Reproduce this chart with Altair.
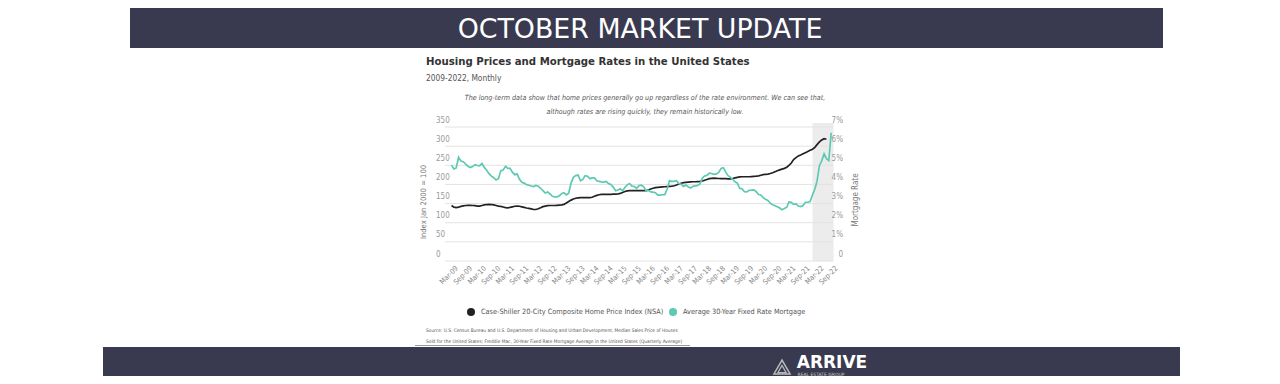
import altair as alt
import pandas as pd

# ---------------- data ----------------
# Average 30-year fixed mortgage rate (%), monthly, Mar-2009 .. Sep-2022
mortgage_rate = [
    5.00, 4.81, 4.86, 5.42, 5.22, 5.19, 5.06, 4.95, 4.88, 4.93,
    5.03, 4.99, 4.97, 5.10, 4.89, 4.74, 4.56, 4.43, 4.35, 4.23, 4.30, 4.71,
    4.76, 4.95, 4.84, 4.84, 4.64, 4.51, 4.55, 4.27, 4.11, 4.07, 3.99, 3.96,
    3.92, 3.89, 3.95, 3.91, 3.80, 3.68, 3.55, 3.60, 3.50, 3.38, 3.35, 3.35,
    3.41, 3.53, 3.57, 3.45, 3.54, 4.07, 4.37, 4.46, 4.49, 4.19, 4.26, 4.46,
    4.43, 4.30, 4.34, 4.34, 4.19, 4.16, 4.13, 4.12, 4.16, 4.04, 4.00, 3.86,
    3.67, 3.71, 3.77, 3.67, 3.84, 3.98, 4.05, 3.91, 3.89, 3.80, 3.94, 3.96,
    3.87, 3.66, 3.69, 3.61, 3.60, 3.57, 3.44, 3.44, 3.46, 3.47, 3.77, 4.20,
    4.15, 4.17, 4.20, 4.05, 4.01, 3.90, 3.97, 3.88, 3.81, 3.90, 3.92, 3.95,
    4.03, 4.33, 4.44, 4.47, 4.59, 4.57, 4.53, 4.55, 4.63, 4.83, 4.87, 4.64,
    4.46, 4.37, 4.27, 4.14, 4.07, 3.80, 3.77, 3.62, 3.61, 3.69, 3.70, 3.72,
    3.62, 3.47, 3.45, 3.31, 3.23, 3.16, 3.02, 2.94, 2.89, 2.83, 2.77, 2.68,
    2.74, 2.81, 3.08, 3.06, 2.96, 2.98, 2.87, 2.84, 2.90, 3.07, 3.07, 3.10,
    3.45, 3.76, 4.17, 4.98, 5.23, 5.60, 5.35, 5.25, 6.70,
]

# Case-Shiller 20-City Composite Home Price Index (NSA), monthly, Mar-2009 .. Jul-2022
case_shiller = [
    145.0, 140.5, 139.5, 140.5, 142.5, 144.0, 145.0, 145.5, 145.5, 145.0,
    144.5, 143.5, 143.5, 145.0, 146.5, 147.5, 148.0, 147.5, 146.5, 145.0, 143.5, 142.5,
    141.0, 139.5, 139.0, 140.0, 141.5, 143.0, 143.5, 143.0, 141.5, 140.0, 138.5, 137.5,
    136.0, 134.5, 134.5, 136.5, 139.0, 142.0, 143.5, 144.5, 145.0, 145.0, 145.0, 145.5,
    146.0, 146.5, 148.0, 151.5, 155.5, 159.0, 162.0, 164.0, 165.0, 165.5, 165.5, 165.5,
    165.5, 165.5, 166.5, 169.0, 171.5, 173.0, 174.0, 174.0, 174.0, 174.0, 174.0, 174.5,
    174.5, 175.0, 176.5, 179.0, 181.5, 183.0, 184.0, 184.0, 184.0, 184.0, 184.0, 184.0,
    184.0, 184.0, 185.5, 188.0, 190.0, 191.5, 192.5, 193.0, 193.5, 194.0, 194.5, 195.0,
    195.5, 196.5, 198.5, 201.0, 203.0, 204.5, 205.5, 206.0, 206.5, 207.0, 207.0, 207.5,
    208.0, 209.0, 211.0, 213.0, 215.0, 216.0, 216.5, 216.0, 215.5, 215.0, 215.0, 215.0,
    214.5, 214.5, 215.5, 217.0, 218.5, 219.5, 220.0, 220.0, 220.0, 220.0, 220.5, 221.0,
    221.5, 222.5, 224.0, 225.5, 226.5, 227.0, 228.5, 230.5, 233.0, 235.5, 238.0, 240.0,
    242.0, 245.0, 250.0, 256.0, 265.0, 270.0, 274.5, 277.0, 280.0, 283.0, 286.0, 289.0,
    292.0, 297.0, 304.0, 311.0, 316.0, 319.5, 318.0,
]

x_tick_labels = [
    "Mar-09", "Sep-09", "Mar-10", "Sep-10", "Mar-11", "Sep-11", "Mar-12", "Sep-12",
    "Mar-13", "Sep-13", "Mar-14", "Sep-14", "Mar-15", "Sep-15", "Mar-16", "Sep-16",
    "Mar-17", "Sep-17", "Mar-18", "Sep-18", "Mar-19", "Sep-19", "Mar-20", "Sep-20",
    "Mar-21", "Sep-21", "Mar-22", "Sep-22",
]
index_ticks = [0, 50, 100, 150, 200, 250, 300, 350]
index_tick_labels = ["0", "50", "100", "150", "200", "250", "300", "350"]
rate_ticks = [0, 1, 2, 3, 4, 5, 6, 7]
rate_tick_labels = ["0", "1%", "2%", "3%", "4%", "5%", "6%", "7%"]
shade_start = ["2022-01-01"]
shade_end = ["2022-10-01"]

legend_labels = ["Case-Shiller 20-City Composite Home Price Index (NSA)",
                 "Average 30-Year Fixed Rate Mortgage"]


def month_seq(n, step=1, y=2009, m=3):
    out = []
    for i in range(n):
        mm = m - 1 + i * step
        out.append(f"{y + mm // 12:04d}-{mm % 12 + 1:02d}-01")
    return out


rate_df = pd.DataFrame({"date": month_seq(len(mortgage_rate)), "v": mortgage_rate})
cs_df = pd.DataFrame({"date": month_seq(len(case_shiller)), "v": case_shiller})
xt_df = pd.DataFrame({"date": month_seq(len(x_tick_labels), 6), "label": x_tick_labels})
it_df = pd.DataFrame({"v": index_ticks, "label": index_tick_labels})
rt_df = pd.DataFrame({"v": rate_ticks, "label": rate_tick_labels})
shade_df = pd.DataFrame({"start": shade_start, "end": shade_end})
one = pd.DataFrame({"k": [0]})

# ---------------- layout ----------------
PX0, PY0 = 451.5, 127.0      # page position of plot origin
W, H = 382, 134


def px(x):
    return x - PX0


def py(y):
    return y - PY0


FONT = "DejaVu Sans Condensed, DejaVu Sans, sans-serif"
DARK = "#393a50"
TEAL = "#5ec9b2"
BLACK = "#222222"

xscale = alt.Scale(domain=[alt.DateTime(year=2009, month=3, date=1, utc=True),
                           alt.DateTime(year=2022, month=10, date=1, utc=True)])
iscale = alt.Scale(domain=[0, 350])
rscale = alt.Scale(domain=[0, 7])

shade = alt.Chart(shade_df).mark_rect(color="#ececec").encode(
    x=alt.X("start:T", scale=xscale, axis=None), x2="end:T",
    y=alt.value(py(123)), y2=alt.value(py(261)))

grid = alt.Chart(it_df).mark_rule(color="#e2e2e2", strokeWidth=1).encode(
    y=alt.Y("v:Q", scale=iscale, axis=None),
    x=alt.value(px(445)), x2=alt.value(px(833)))

cs_line = alt.Chart(cs_df).mark_line(color=BLACK, strokeWidth=1.7).encode(
    x=alt.X("date:T", scale=xscale, axis=None),
    y=alt.Y("v:Q", scale=iscale, axis=None))

rate_line = alt.Chart(rate_df).mark_line(color=TEAL, strokeWidth=1.7).encode(
    x=alt.X("date:T", scale=xscale, axis=None),
    y=alt.Y("v:Q", scale=rscale, axis=None))

left_labels = alt.Chart(it_df).mark_text(
    align="left", baseline="middle", dy=-6.5, font=FONT, fontSize=8, color="#999999").encode(
    y=alt.Y("v:Q", scale=iscale, axis=None), x=alt.value(px(436)), text="label:N")

right_labels = alt.Chart(rt_df).mark_text(
    align="right", baseline="middle", dy=-6.5, font=FONT, fontSize=8, color="#999999").encode(
    y=alt.Y("v:Q", scale=rscale, axis=None), x=alt.value(px(843)), text="label:N")

x_labels = alt.Chart(xt_df).mark_text(
    align="right", baseline="middle", angle=315, dx=8, font=FONT, fontSize=7.3,
    color="#888888").encode(
    x=alt.X("date:T", scale=xscale, axis=None), y=alt.value(py(273)), text="label:N")


def txt(s, x, y, size, color="#555555", align="left", weight="normal", style="normal",
        angle=0, font=FONT, baseline="middle"):
    kw = dict(text=s, align=align, baseline=baseline, fontSize=size, color=color,
              fontWeight=weight, fontStyle=style, font=font)
    if angle:
        kw["angle"] = angle
    return alt.Chart(one).mark_text(**kw).encode(x=alt.value(px(x)), y=alt.value(py(y)))


def rect(x1, x2, y1, y2, color):
    return alt.Chart(one).mark_rect(color=color).encode(
        x=alt.value(px(x1)), x2=alt.value(px(x2)), y=alt.value(py(y1)), y2=alt.value(py(y2)))


top_band = rect(130, 1163, 0, 48, DARK)
bottom_band = rect(103, 1180, 347, 390, DARK)
header = txt("OCTOBER MARKET UPDATE", 640, 30, 26.8, color="#ffffff", align="center",
             font="DejaVu Sans, sans-serif")

title = txt("Housing Prices and Mortgage Rates in the United States", 426, 62, 11.3,
            color="#333333", weight="bold")
subtitle = txt("2009-2022, Monthly", 426, 79, 8.3, color="#555555")
note1 = txt("The long-term data show that home prices generally go up regardless of the rate "
            "environment. We can see that,", 645, 98, 7.1, color="#555555", align="center",
            style="italic")
note2 = txt("although rates are rising quickly, they remain historically low.", 645, 112, 7.1,
            color="#555555", align="center", style="italic")
ytitle_l = txt("Index Jan 2000 = 100", 424, 202, 7.6, color="#777777", align="center", angle=270)
ytitle_r = txt("Mortgage Rate", 856, 200, 8, color="#777777", align="center", angle=270)

leg_dot1 = alt.Chart(one).mark_circle(size=64, color=BLACK, opacity=1).encode(
    x=alt.value(px(471)), y=alt.value(py(312)))
leg_dot2 = alt.Chart(one).mark_circle(size=64, color=TEAL, opacity=1).encode(
    x=alt.value(px(673)), y=alt.value(py(312)))
leg_t1 = txt(legend_labels[0], 481, 312, 7.3, color="#555555")
leg_t2 = txt(legend_labels[1], 683, 312, 7.3, color="#555555")

src1 = txt("Source:  U.S. Census Bureau and U.S. Department of Housing and Urban Development, "
           "Median Sales Price of Houses", 426, 331, 4.8, color="#555555")
src2 = txt("Sold for the United States; Freddie Mac, 30-Year Fixed Rate Mortgage Average in the "
           "United States (Quarterly Average)", 426, 342, 4.8, color="#555555")
src_rule = alt.Chart(one).mark_rule(color="#999999", strokeWidth=1).encode(
    x=alt.value(px(415)), x2=alt.value(px(690)), y=alt.value(py(345.5)))

logo_tri = alt.Chart(one).mark_point(shape="triangle-up", size=260, filled=False,
                                     color="#bbbbbb", strokeWidth=1.5, opacity=1).encode(
    x=alt.value(px(782)), y=alt.value(py(367)))
logo_tri2 = alt.Chart(one).mark_point(shape="triangle-up", size=70, filled=False,
                                      color="#bbbbbb", strokeWidth=1.2, opacity=1).encode(
    x=alt.value(px(782)), y=alt.value(py(369)))
logo_text = txt("ARRIVE", 832, 363, 17, color="#ffffff", align="center", weight="bold",
                font="DejaVu Sans, sans-serif")
logo_sub = txt("REAL ESTATE GROUP", 821, 374.5, 4.5, color="#cccccc", align="center",
               font="DejaVu Sans, sans-serif")

chart = alt.layer(
    shade, grid, cs_line, rate_line, left_labels, right_labels, x_labels,
    top_band, bottom_band, header, title, subtitle, note1, note2, ytitle_l, ytitle_r,
    leg_dot1, leg_dot2, leg_t1, leg_t2, src1, src2, src_rule,
    logo_tri, logo_tri2, logo_text, logo_sub,
).resolve_scale(y="independent").properties(
    width=W, height=H,
    padding={"left": PX0 - 8, "top": PY0 - 8, "right": 1272 - (PX0 + W), "bottom": 376 - (PY0 + H)},
    autosize=alt.AutoSizeParams(type="none"),
    background="#ffffff",
).configure_view(stroke=None)

chart.save("out.html", embed_options={"renderer": "svg", "actions": False})
